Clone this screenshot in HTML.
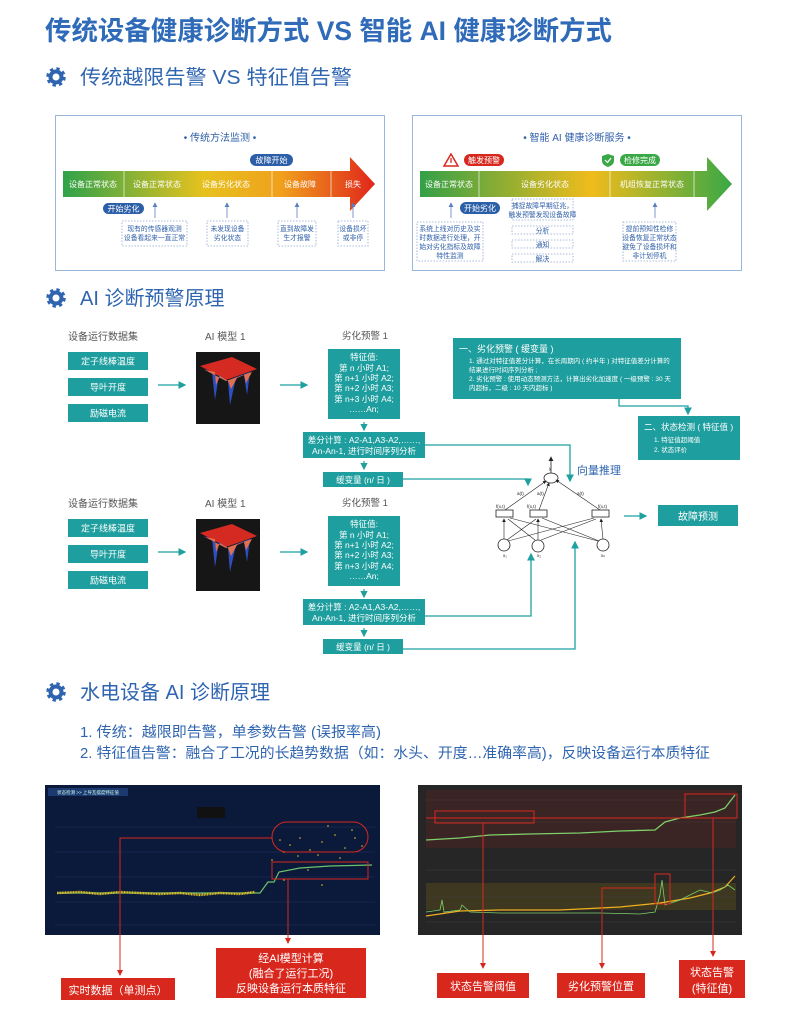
<!DOCTYPE html>
<html><head><meta charset="utf-8"><style>
html,body{margin:0;padding:0;background:#fff}
svg{display:block}
text{font-family:"Liberation Sans","Noto Sans CJK SC",sans-serif}
</style></head><body>
<svg width="785" height="1031" viewBox="0 0 785 1031" xmlns="http://www.w3.org/2000/svg">
<defs>
<linearGradient id="g1" x1="0" x2="1"><stop offset="0" stop-color="#2fa24a"/><stop offset="0.45" stop-color="#e6c21e"/><stop offset="0.7" stop-color="#f0a01c"/><stop offset="1" stop-color="#e0261c"/></linearGradient>
<linearGradient id="g2" x1="0" x2="1"><stop offset="0" stop-color="#34a048"/><stop offset="0.55" stop-color="#f0bc1c"/><stop offset="1" stop-color="#3aa846"/></linearGradient>
<g id="gear"><circle r="5.5" fill="none" stroke="#2f65b0" stroke-width="4" /><circle r="8" fill="none" stroke="#2f65b0" stroke-width="3.5" stroke-dasharray="3.2 3.1"/><circle r="2" fill="#fff"/></g>
<marker id="ta" markerWidth="6" markerHeight="6" refX="5" refY="3" orient="auto"><path d="M0,0 L6,3 L0,6z" fill="#1ea0a0"/></marker>
<marker id="ba" markerWidth="6" markerHeight="6" refX="5" refY="3" orient="auto"><path d="M0,0 L6,3 L0,6z" fill="#5b7fc0"/></marker>
<marker id="ka" markerWidth="6" markerHeight="6" refX="5" refY="3" orient="auto"><path d="M0,0 L6,3 L0,6z" fill="#222"/></marker>
<marker id="ra" markerWidth="6" markerHeight="6" refX="5" refY="3" orient="auto"><path d="M0,0 L6,3 L0,6z" fill="#d8281e"/></marker>
</defs>

<!-- Title -->
<text x="45" y="40" font-size="26.5" font-weight="bold" fill="#2f6bb8" textLength="567" lengthAdjust="spacingAndGlyphs">传统设备健康诊断方式 VS 智能 AI 健康诊断方式</text>
<use href="#gear" x="56" y="77"/>
<text x="80" y="84" font-size="20" fill="#2f65b0" textLength="272" lengthAdjust="spacingAndGlyphs">传统越限告警 VS 特征值告警</text>

<!-- Left box -->
<rect x="55.5" y="115.5" width="329" height="155" fill="#fff" stroke="#9bb6dd" stroke-width="1"/>
<text x="220" y="141" font-size="10" fill="#2f5fa8" text-anchor="middle">•     传统方法监测     •</text>
<rect x="250" y="154" width="43" height="12" rx="6" fill="#2d5fa8"/>
<text x="271.5" y="163" font-size="8" fill="#fff" text-anchor="middle">故障开始</text>
<path d="M63,171 H350 V157 L375,184 L350,211 V197 H63z" fill="url(#g1)"/>
<g stroke="#fff" stroke-width="0.8" opacity="0.8"><line x1="124" y1="171" x2="124" y2="197"/><line x1="272" y1="171" x2="272" y2="197"/><line x1="331" y1="171" x2="331" y2="197"/></g>
<g font-size="8" fill="#fff" text-anchor="middle"><text x="93" y="187">设备正常状态</text><text x="157" y="187">设备正常状态</text><text x="226" y="187">设备劣化状态</text><text x="300" y="187">设备故障</text><text x="353" y="187">损失</text></g>
<rect x="103" y="203" width="41" height="11" rx="5.5" fill="#2d5fa8"/>
<text x="123.5" y="211.5" font-size="8" fill="#fff" text-anchor="middle">开始劣化</text>
<g stroke="#5b7fc0" stroke-width="0.8" fill="none" marker-end="url(#ba)"><line x1="155" y1="218" x2="155" y2="203"/><line x1="227" y1="218" x2="227" y2="203"/><line x1="297" y1="218" x2="297" y2="203"/><line x1="353" y1="218" x2="353" y2="203"/></g>
<g stroke="#8ea6d0" stroke-width="0.8" fill="none" stroke-dasharray="1.5 1.5"><rect x="122" y="221" width="65" height="25"/><rect x="207" y="221" width="41" height="25"/><rect x="278" y="221" width="38" height="25"/><rect x="338" y="221" width="30" height="25"/></g>
<g font-size="6.8" fill="#2f5fa8" text-anchor="middle"><text x="154.5" y="231">现有的传感器观测</text><text x="154.5" y="240">设备看起来一直正常</text><text x="227.5" y="231">未发现设备</text><text x="227.5" y="240">劣化状态</text><text x="297" y="231">直到故障发</text><text x="297" y="240">生才报警</text><text x="353" y="231">设备损坏</text><text x="353" y="240">或非停</text></g>

<!-- Right box -->
<rect x="412.5" y="115.5" width="329" height="155" fill="#fff" stroke="#9bb6dd" stroke-width="1"/>
<text x="577" y="141" font-size="10" fill="#2f5fa8" text-anchor="middle">•   智能 AI 健康诊断服务   •</text>
<path d="M451,154 L458,166 L444,166z" fill="#fff" stroke="#d8281e" stroke-width="1.5"/><line x1="451" y1="158" x2="451" y2="163" stroke="#d8281e" stroke-width="1.3"/>
<rect x="464" y="154" width="40" height="12" rx="6" fill="#d8281e"/>
<text x="484" y="163" font-size="8" fill="#fff" text-anchor="middle">触发预警</text>
<path d="M608,154 L614,156 V161 Q614,165 608,167 Q602,165 602,161 V156z" fill="#3aa846"/><path d="M605,160 L607.5,162.5 L611,158" stroke="#fff" stroke-width="1.2" fill="none"/>
<rect x="620" y="154" width="40" height="12" rx="6" fill="#3aa846"/>
<text x="640" y="163" font-size="8" fill="#fff" text-anchor="middle">检修完成</text>
<path d="M420,171 H707 V157 L732,184 L707,211 V197 H420z" fill="url(#g2)"/>
<g stroke="#fff" stroke-width="0.8" opacity="0.8"><line x1="479" y1="171" x2="479" y2="197"/><line x1="610" y1="171" x2="610" y2="197"/><line x1="694" y1="171" x2="694" y2="197"/></g>
<g font-size="8" fill="#fff" text-anchor="middle"><text x="449" y="187">设备正常状态</text><text x="545" y="187">设备劣化状态</text><text x="652" y="187">机组恢复正常状态</text></g>
<rect x="460" y="202" width="40" height="12" rx="6" fill="#2d5fa8"/>
<text x="480" y="211" font-size="8" fill="#fff" text-anchor="middle">开始劣化</text>
<g stroke="#5b7fc0" stroke-width="0.8" fill="none" marker-end="url(#ba)"><line x1="451" y1="218" x2="451" y2="203"/><line x1="655" y1="218" x2="655" y2="203"/></g>
<g stroke="#8ea6d0" stroke-width="0.8" fill="none" stroke-dasharray="1.5 1.5"><rect x="417" y="222" width="66" height="39"/><rect x="512" y="199" width="61" height="21"/><rect x="512" y="226" width="61" height="8"/><rect x="512" y="240" width="61" height="8"/><rect x="512" y="254" width="61" height="8"/><rect x="623" y="222" width="53" height="39"/></g>
<g font-size="6.8" fill="#2f5fa8" text-anchor="middle"><text x="450" y="231">系统上线对历史及实</text><text x="450" y="240">时数据进行处理，开</text><text x="450" y="249">始对劣化指标及故障</text><text x="450" y="258">特性监测</text>
<text x="542.5" y="208">捕捉故障早期征兆，</text><text x="542.5" y="217">触发预警发现设备故障</text><text x="542.5" y="233">分析</text><text x="542.5" y="247">通知</text><text x="542.5" y="261">解决</text>
<text x="649.5" y="231">提前预知性检修</text><text x="649.5" y="240">设备恢复正常状态</text><text x="649.5" y="249">避免了设备损坏和</text><text x="649.5" y="258">非计划停机</text></g>

<!-- Section 2 -->
<use href="#gear" x="56" y="298"/>
<text x="80" y="305" font-size="20" fill="#2f65b0">AI 诊断预警原理</text>

<g id="row1">
<text x="68" y="340" font-size="10" fill="#555">设备运行数据集</text>
<text x="205" y="340" font-size="10" fill="#555">AI 模型 1</text>
<text x="342" y="339" font-size="9.5" fill="#555">劣化预警 1</text>
<g fill="#1e9e9e"><rect x="68" y="352" width="80" height="18"/><rect x="68" y="378" width="80" height="18"/><rect x="68" y="404" width="80" height="18"/></g>
<g font-size="9" fill="#fff" text-anchor="middle"><text x="108" y="364.5">定子线棒温度</text><text x="108" y="390.5">导叶开度</text><text x="108" y="416.5">励磁电流</text></g>
<line x1="158" y1="385" x2="185" y2="385" stroke="#1ea0a0" stroke-width="1.3" marker-end="url(#ta)"/>
<line x1="280" y1="385" x2="307" y2="385" stroke="#1ea0a0" stroke-width="1.3" marker-end="url(#ta)"/>
<rect x="196" y="352" width="64" height="72" fill="#161616"/>
<path d="M200,366 L232,357 L257,369 L226,380z" fill="#d42a22"/>
<path d="M203,369 L212,372 L215,400 L219,375 L228,381 L230,405 L236,378 L244,375 L247,395 L250,372 L255,370 L226,381z" fill="#2f4fc0"/>
<path d="M205,370 L215,372 L216,385 L220,376 L228,381 L231,389 L237,378 L244,375 L246,383 L252,372 L226,381z" fill="#e07050"/>
<rect x="328" y="349" width="72" height="70" fill="#1e9e9e"/>
<g font-size="8.5" fill="#fff" text-anchor="middle"><text x="364" y="360">特征值:</text><text x="364" y="371">第 n 小时 A1;</text><text x="364" y="381">第 n+1 小时 A2;</text><text x="364" y="391">第 n+2 小时 A3;</text><text x="364" y="402">第 n+3 小时 A4;</text><text x="364" y="412">……An;</text></g>
<line x1="364" y1="422" x2="364" y2="430" stroke="#1ea0a0" stroke-width="1.2" marker-end="url(#ta)"/>
<rect x="303" y="432" width="122" height="26" fill="#1e9e9e"/>
<g font-size="8.5" fill="#fff" text-anchor="middle"><text x="364" y="443">差分计算 : A2-A1,A3-A2,……,</text><text x="364" y="454">An-An-1, 进行时间序列分析</text></g>
<line x1="364" y1="461" x2="364" y2="469" stroke="#1ea0a0" stroke-width="1.2" marker-end="url(#ta)"/>
<rect x="323" y="472" width="80" height="15" fill="#1e9e9e"/>
<text x="363" y="483" font-size="8.5" fill="#fff" text-anchor="middle">缓变量 (n/ 日 )</text>
</g>
<use href="#row1" y="167"/>

<!-- connectors -->
<g stroke="#1ea0a0" stroke-width="1.3" fill="none">
<polyline points="425,445 570,445 570,481" marker-end="url(#ta)"/>
<polyline points="403,479 528,479 528,485" marker-end="url(#ta)"/>
<polyline points="425,616 531,616 531,554" marker-end="url(#ta)"/>
<polyline points="403,649 575,649 575,542" marker-end="url(#ta)"/>
<line x1="624" y1="516" x2="646" y2="516" marker-end="url(#ta)"/>
<polyline points="619,399 619,406 688,406 688,414" marker-end="url(#ta)"/>
</g>

<!-- top right boxes -->
<rect x="453" y="338" width="228" height="61" fill="#1e9e9e"/>
<text x="459" y="352" font-size="9" fill="#fff">一、劣化预警 ( 缓变量 )</text>
<g font-size="6.5" fill="#fff"><text x="469" y="363">1. 通过对特征值差分计算，在长周期内 ( 约半年 ) 对特征值差分计算的</text><text x="469" y="372">结果进行时间序列分析 ;</text><text x="469" y="381">2. 劣化预警 : 使用动态预测方法，计算出劣化加速度 ( 一级预警 : 30 天</text><text x="469" y="390">内超标，二级 : 10 天内超标 )</text></g>
<rect x="638" y="416" width="102" height="44" fill="#1e9e9e"/>
<text x="644" y="430" font-size="8.5" fill="#fff">二、状态检测 ( 特征值 )</text>
<g font-size="6.5" fill="#fff"><text x="654" y="442">1. 特征值超阈值</text><text x="654" y="452">2. 状态评价</text></g>

<!-- network -->
<text x="577" y="474" font-size="11" fill="#2f65b0">向量推理</text>
<g stroke="#222" stroke-width="0.8" fill="#fff">
<line x1="551" y1="473" x2="551" y2="457" marker-end="url(#ka)"/>
<ellipse cx="551" cy="478" rx="7" ry="5"/>
<rect x="496" y="510" width="17" height="7"/><rect x="530" y="510" width="17" height="7"/><rect x="592" y="510" width="17" height="7"/>
<circle cx="504" cy="545" r="6"/><circle cx="538" cy="546" r="6"/><circle cx="603" cy="545" r="6"/>
</g>
<g stroke="#222" stroke-width="0.6" fill="none">
<line x1="505" y1="510" x2="546" y2="481" marker-end="url(#ka)"/><line x1="539" y1="510" x2="549" y2="483" marker-end="url(#ka)"/><line x1="600" y1="510" x2="556" y2="480" marker-end="url(#ka)"/>
<line x1="504" y1="539" x2="504" y2="519" marker-end="url(#ka)"/><line x1="538" y1="540" x2="538" y2="519" marker-end="url(#ka)"/><line x1="603" y1="539" x2="601" y2="519" marker-end="url(#ka)"/>
<line x1="507" y1="540" x2="536" y2="519"/><line x1="508" y1="541" x2="594" y2="518"/><line x1="535" y1="540" x2="508" y2="519"/><line x1="541" y1="540" x2="596" y2="519"/><line x1="598" y1="541" x2="510" y2="518"/><line x1="599" y1="541" x2="542" y2="518"/>
</g>
<g font-size="4.5" fill="#222"><text x="517" y="495">a(t)</text><text x="537" y="495">a(t)</text><text x="577" y="495">a(t)</text><text x="496" y="508">f(x,t)</text><text x="527" y="508">f(x,t)</text><text x="598" y="508">f(x,t)</text><text x="549" y="470">y</text><text x="503" y="557">x₁</text><text x="537" y="557">x₂</text><text x="601" y="557">xₙ</text></g>
<rect x="658" y="505" width="80" height="21" fill="#1e9e9e"/>
<text x="698" y="520" font-size="10" fill="#fff" text-anchor="middle">故障预测</text>

<!-- Section 3 -->
<use href="#gear" x="56" y="692"/>
<text x="80" y="699" font-size="20" fill="#2f65b0">水电设备 AI 诊断原理</text>
<text x="80" y="737" font-size="14.5" fill="#2f65b0" textLength="301" lengthAdjust="spacingAndGlyphs">1.  传统：越限即告警，单参数告警 (误报率高)</text>
<text x="80" y="758" font-size="14.5" fill="#2f65b0" textLength="630" lengthAdjust="spacingAndGlyphs">2.  特征值告警：融合了工况的长趋势数据（如：水头、开度…准确率高)，反映设备运行本质特征</text>

<!-- left chart -->
<rect x="45" y="785" width="335" height="150" fill="#0b1a3a"/>
<rect x="48" y="788" width="80" height="8" fill="#1c3a70"/>
<text x="88" y="794" font-size="4.5" fill="#cfe" text-anchor="middle">状态检测 &gt;&gt; 上导瓦摆度特征值</text>
<rect x="197" y="807" width="28" height="11" fill="#111"/>
<g stroke="#1e3060" stroke-width="0.5"><line x1="55" y1="827" x2="375" y2="827"/><line x1="55" y1="852" x2="375" y2="852"/><line x1="55" y1="877" x2="375" y2="877"/><line x1="55" y1="902" x2="375" y2="902"/><line x1="55" y1="925" x2="375" y2="925"/></g>
<path d="M57,893 L260,893 L268,882 L274,882 L279,872 L300,868 L330,866 L372,865" stroke="#6cc26a" stroke-width="1.2" fill="none"/>
<path d="M57,893 L80,892 L100,894 L120,892 L140,893 L160,894 L180,893 L200,895 L220,893 L240,894 L255,892" stroke="#e6c024" stroke-width="2.5" fill="none" stroke-dasharray="1 0.6"/>
<g fill="#e6c024"><circle cx="280" cy="840" r="0.8"/><circle cx="290" cy="845" r="0.8"/><circle cx="300" cy="838" r="0.8"/><circle cx="310" cy="850" r="0.8"/><circle cx="322" cy="842" r="0.8"/><circle cx="335" cy="835" r="0.8"/><circle cx="345" cy="848" r="0.8"/><circle cx="355" cy="838" r="0.8"/><circle cx="362" cy="846" r="0.8"/><circle cx="284" cy="852" r="0.8"/><circle cx="298" cy="856" r="0.8"/><circle cx="318" cy="855" r="0.8"/><circle cx="340" cy="858" r="0.8"/><circle cx="352" cy="830" r="0.8"/><circle cx="328" cy="826" r="0.8"/><circle cx="272" cy="860" r="0.8"/><circle cx="308" cy="870" r="0.8"/><circle cx="322" cy="885" r="0.8"/><circle cx="284" cy="880" r="0.8"/></g>
<g stroke="#d8281e" stroke-width="1" fill="none">
<rect x="272" y="822" width="96" height="30" rx="15"/><rect x="272" y="862" width="96" height="17"/>
<polyline points="272,838 120,838 120,975" marker-end="url(#ra)"/>
<line x1="288" y1="879" x2="288" y2="943" marker-end="url(#ra)"/>
</g>
<rect x="61" y="978" width="114" height="22" fill="#d8281e"/>
<text x="118" y="994" font-size="11" fill="#fff" text-anchor="middle">实时数据（单测点）</text>
<rect x="216" y="948" width="150" height="50" fill="#d8281e"/>
<g font-size="11" fill="#fff" text-anchor="middle"><text x="291" y="962">经AI模型计算</text><text x="291" y="977">(融合了运行工况)</text><text x="291" y="992">反映设备运行本质特征</text></g>

<!-- right chart -->
<rect x="418" y="785" width="324" height="150" fill="#262626"/>
<rect x="426" y="790" width="310" height="58" fill="#3a2424"/>
<rect x="426" y="883" width="310" height="27" fill="#3e3820"/>
<g stroke="#444" stroke-width="0.4"><line x1="426" y1="800" x2="736" y2="800"/><line x1="426" y1="822" x2="736" y2="822"/><line x1="426" y1="870" x2="736" y2="870"/><line x1="426" y1="897" x2="736" y2="897"/><line x1="426" y1="922" x2="736" y2="922"/></g>
<path d="M426,840 L460,838 L490,835 L530,834 L580,833 L620,831 L655,830 L665,822 L680,818 L700,815 L715,812 L725,808 L735,795" stroke="#7fcf6a" stroke-width="1.3" fill="none"/>
<path d="M426,916 L460,911 L500,910 L560,910 L620,907 L660,903 L690,898 L710,893 L725,887 L735,876" stroke="#f0b020" stroke-width="1.2" fill="none"/>
<path d="M426,912 L440,910 L442,900 L444,912 L460,910 L462,905 L470,912 L500,913 L530,913 L560,913 L600,913 L640,914 L655,912 L660,895 L662,880 L665,905 L680,900 L690,895 L700,890 L712,893 L720,890 L728,885 L735,890" stroke="#7fcf6a" stroke-width="0.8" fill="none"/>
<g stroke="#d8281e" stroke-width="1" fill="none">
<rect x="435" y="811" width="99" height="12"/><rect x="685" y="794" width="52" height="24"/><rect x="655" y="874" width="15" height="30"/>
<line x1="426" y1="818" x2="736" y2="818"/>
<line x1="483" y1="823" x2="483" y2="968" marker-end="url(#ra)"/>
<polyline points="655,888 602,888 602,968" marker-end="url(#ra)"/>
<line x1="713" y1="818" x2="713" y2="956" marker-end="url(#ra)"/>
</g>
<rect x="437" y="973" width="92" height="25" fill="#d8281e"/>
<text x="483" y="990" font-size="11" fill="#fff" text-anchor="middle">状态告警阈值</text>
<rect x="557" y="973" width="88" height="25" fill="#d8281e"/>
<text x="601" y="990" font-size="11" fill="#fff" text-anchor="middle">劣化预警位置</text>
<rect x="679" y="960" width="66" height="38" fill="#d8281e"/>
<g font-size="11" fill="#fff" text-anchor="middle"><text x="712" y="976">状态告警</text><text x="712" y="992">(特征值)</text></g>
</svg>
</body></html>
